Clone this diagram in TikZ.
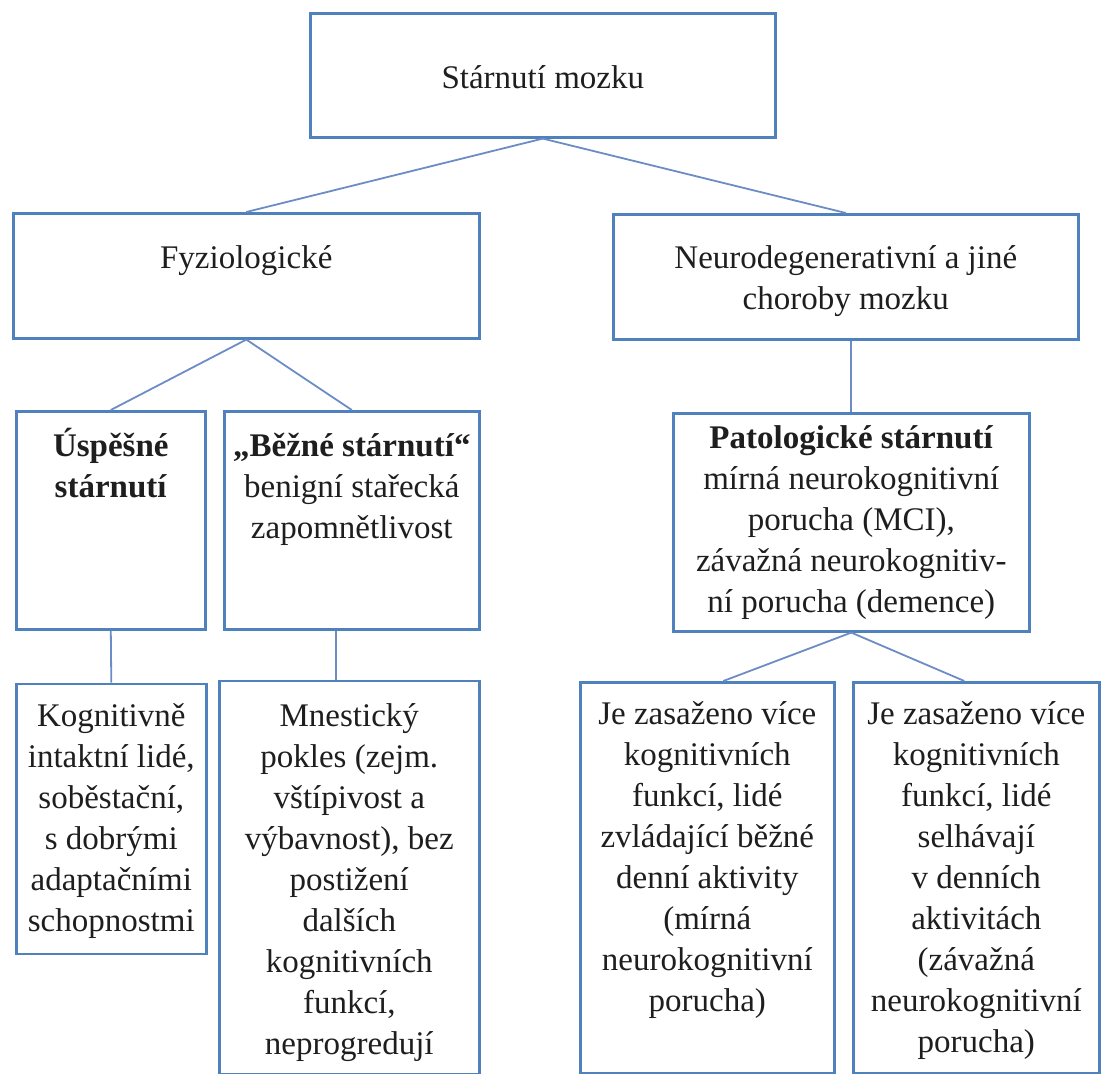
\documentclass[tikz,border=0pt]{standalone}
\usepackage{fontspec}
\setmainfont{Liberation Serif}
\usepackage{xcolor}
\usetikzlibrary{positioning}

\definecolor{boxblue}{RGB}{79,129,189}
\definecolor{linkblue}{RGB}{108,140,198}
\definecolor{inkgray}{RGB}{30,30,30}

% width, height, top pad, text
\newcommand{\cellbody}[4]{\parbox[c][#2][t]{#1}{\centering\vspace*{#3}\rule{0pt}{15pt}#4\par}}

\begin{document}
\begin{tikzpicture}[x=0.5pt,y=-0.5pt,
                    every node/.style={font=\fontsize{16.5}{20.5}\selectfont,text=inkgray},
                    cell/.style={draw=boxblue,line width=1.3pt,inner sep=0pt,anchor=north west},
                    link/.style={draw=linkblue,line width=0.9pt}]
%  \draw[help lines] (0,0) grid (1107,1074);
  \useasboundingbox (0,0) rectangle (1107,1074);

  \node[cell] (top)   at (309,12)  {\cellbody{232.5pt}{62pt}{22.5pt}{Stárnutí mozku}};
  \node[cell] (fyz)   at (12,212)  {\cellbody{233pt}{62.5pt}{12.5pt}{Fyziologické}};
  \node[cell] (neuro) at (612,213) {\cellbody{232.5pt}{62.5pt}{12pt}{Neurodegenerativní a jiné\\choroby mozku}};

  \node[cell] (usp) at (15,410)  {\cellbody{94.5pt}{109pt}{7.5pt}{\textbf{Úspěšné\\stárnutí}}};
  \node[cell] (bez) at (223,410) {\cellbody{127.5pt}{109pt}{7.5pt}{\textbf{„Běžné stárnutí“}\\benigní stařecká\\zapomnětlivost}};
  \node[cell] (pat) at (672,412) {\cellbody{178pt}{109pt}{2.5pt}{\textbf{Patologické stárnutí}\\mírná neurokognitivní\\porucha (MCI),\\závažná neurokognitiv-\\ní porucha (demence)}};

  \node[cell] (kog) [below=26pt of usp.south west,anchor=north west]
        {\cellbody{95pt}{135pt}{6.5pt}{Kognitivně\\intaktní lidé,\\soběstační,\\s dobrými\\adaptačními\\schopnostmi}};
  \node[cell] (mne) [below=24.5pt of bez.south west,anchor=north west,xshift=-2.5pt]
        {\cellbody{130pt}{196.5pt}{8pt}{Mnestický\\pokles (zejm.\\vštípivost a\\výbavnost), bez\\postižení\\dalších\\kognitivních\\funkcí,\\neprogredují}};
  \node[cell] (je1) at (579,681)
        {\cellbody{127pt}{195.5pt}{6pt}{Je zasaženo více\\kognitivních\\funkcí, lidé\\zvládající běžné\\denní aktivity\\(mírná\\neurokognitivní\\porucha)}};
  \node[cell] (je2) at (852,681)
        {\cellbody{123pt}{195.5pt}{6pt}{Je zasaženo více\\kognitivních\\funkcí, lidé\\selhávají\\v denních\\aktivitách\\(závažná\\neurokognitivní\\porucha)}};

  \coordinate (bezfoot) at ([xshift=-7.75pt]bez.south);

  \path[link]
        (top.south) edge (fyz.north)
                    edge (neuro.north)
        (fyz.south) edge (usp.north)
                    edge (bez.north)
        (pat.north) edge (pat.north |- neuro.south)
        (usp.south) edge (kog.north)
        (bezfoot)   edge (bezfoot |- mne.north)
        (pat.south) edge ([xshift=8pt]je1.north)
                    edge ([xshift=-6pt]je2.north);
\end{tikzpicture}
\end{document}
